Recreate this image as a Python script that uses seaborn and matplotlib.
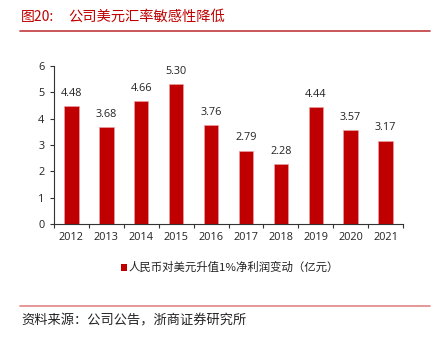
import matplotlib
matplotlib.use("Agg")
import matplotlib.pyplot as plt
import seaborn as sns
import pandas as pd
from matplotlib.lines import Line2D
from matplotlib.patches import Rectangle

years = ["2012", "2013", "2014", "2015", "2016", "2017", "2018", "2019", "2020", "2021"]
values = [4.48, 3.68, 4.66, 5.30, 3.76, 2.79, 2.28, 4.44, 3.57, 3.17]
labels = ["4.48", "3.68", "4.66", "5.30", "3.76", "2.79", "2.28", "4.44", "3.57", "3.17"]
series_name = "人民币对美元升值1%净利润变动（亿元）"
title_num = "图20:"
title = "公司美元汇率敏感性降低"
source = "资料来源：公司公告，浙商证券研究所"

sns.set_theme(style="white")
plt.rcParams['font.family'] = ['Noto Sans CJK SC', 'DejaVu Sans']

df = pd.DataFrame({"year": years, "value": values})
bar_color = "#c00000"

fig = plt.figure(figsize=(4.34, 3.38), dpi=100)
ax = fig.add_axes([54/434, 1-224/338, (403-54)/434, (224-66)/338])
sns.barplot(data=df, x="year", y="value", color=bar_color, width=0.41,
            saturation=1, ax=ax, edgecolor="#e8a0a0", linewidth=0.5)

ax.set_ylim(0, 6)
ax.set_xlim(-0.5, len(years) - 0.5)
ax.set_yticks(range(0, 7))
ax.set_xlabel("")
ax.set_ylabel("")
ax.set_xticks([i - 0.5 for i in range(len(years) + 1)], minor=False)
ax.set_xticklabels([])
ax.set_xticks(range(len(years)), minor=True)
ax.set_xticklabels(years, minor=True)
ax.tick_params(axis="x", which="minor", length=0, pad=6, labelsize=7.8, colors="#222222")
ax.tick_params(axis="x", which="major", length=3, width=0.8, color="#333333", direction="out")
ax.tick_params(axis="y", length=3, width=0.8, color="#333333", direction="out", labelsize=7.8, pad=4, labelcolor="#222222")
ax.tick_params(bottom=True, left=True, which="both")
for lab in ax.get_xticklabels(minor=True) + ax.get_yticklabels():
    lab.set_fontfamily(["Open Sans", "DejaVu Sans"])

for s in ["top", "right"]:
    ax.spines[s].set_visible(False)
for s in ["left", "bottom"]:
    ax.spines[s].set_color("#333333")
    ax.spines[s].set_linewidth(0.8)

for i, (v, t) in enumerate(zip(values, labels)):
    ax.text(i, v + 0.28, t, ha="center", va="bottom", fontsize=7.8,
            color="#222222", family=["Open Sans", "DejaVu Sans"])

# legend
fig.patches.append(Rectangle((121/434, 1-271/338), 6/434, 7/338, transform=fig.transFigure,
                             facecolor=bar_color, edgecolor="none"))
fig.text(129/434, 1-267/338, series_name, ha="left", va="center", fontsize=8.2, color="#222222")

# title
fig.text(21/434, 1-17/338, title_num, ha="left", va="center", fontsize=10, color="#c00000")
fig.text(68/434, 1-17/338, title, ha="left", va="center", fontsize=10.3, color="#c00000")
fig.add_artist(Line2D([20/434, 430/434], [1-31/338, 1-31/338], transform=fig.transFigure,
                      color="#c0393b", linewidth=1.2))
# footer
fig.add_artist(Line2D([20/434, 430/434], [1-306/338, 1-306/338], transform=fig.transFigure,
                      color="#e08585", linewidth=1.2))
fig.text(21/434, 1-321/338, source, ha="left", va="center", fontsize=9.5, color="#222222")

fig.savefig("out.png", dpi=100)
